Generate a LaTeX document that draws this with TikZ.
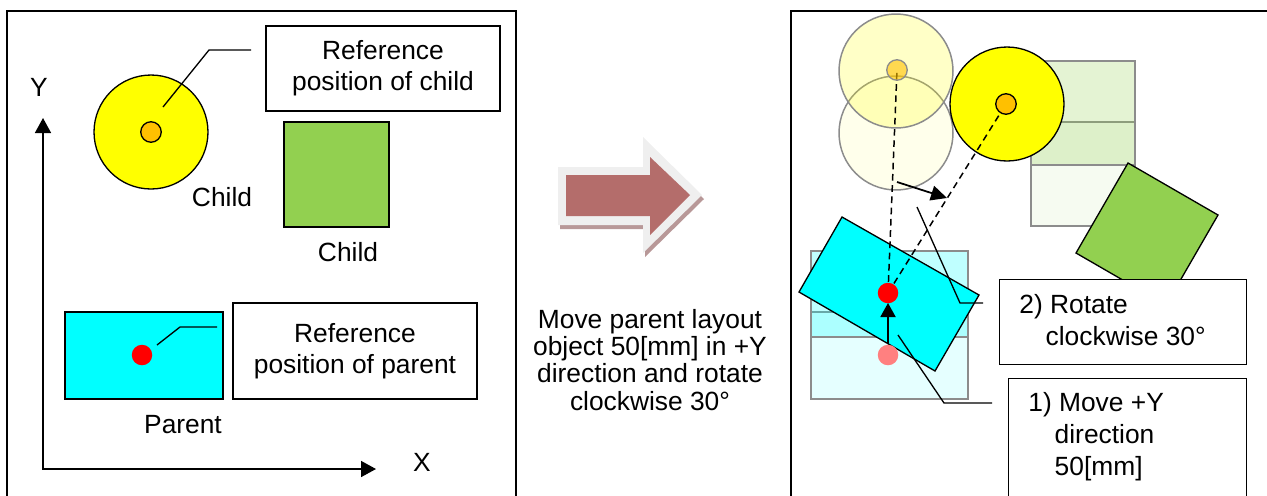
\documentclass[tikz,border=0pt]{standalone}
\usepackage{fontspec}
\setmainfont{Liberation Sans}
\usetikzlibrary{arrows.meta}
\definecolor{cyanf}{HTML}{00FFFF}
\definecolor{yel}{HTML}{FFFF00}
\definecolor{org}{HTML}{FFC000}
\definecolor{grn}{HTML}{92D050}
\definecolor{arrowred}{HTML}{B46D6B}
\definecolor{arrowedge}{HTML}{EFEFEF}
\definecolor{arrowshadow}{HTML}{B89898}
\definecolor{fadeline}{HTML}{8C8C8C}
\definecolor{fadered}{HTML}{FF8080}
\begin{document}
\begin{tikzpicture}[x=0.02cm,y=-0.02cm,
  txt/.style={font=\fontsize{15}{17.5}\selectfont, inner sep=0pt},
  labelbox/.style={draw=black, line width=0.75pt, fill=white, font=\fontsize{15}{17.5}\selectfont, align=center, inner sep=0pt},
  outline/.style={draw=black, line width=0.75pt},
  faded/.style={draw=fadeline, line width=0.85pt},
  leader/.style={draw=black, line width=0.75pt},
  dot/.style={circle, inner sep=0pt, minimum size=0.41cm},
  frame/.style={draw=black, line width=0.85pt},
  axis/.style={draw=black, line width=0.9pt, {Triangle[width=0.32cm,length=0.3cm]}-{Triangle[width=0.32cm,length=0.3cm]}},
  dashedline/.style={draw=black, line width=0.85pt, dash pattern=on 3.8pt off 2.6pt},
]
\useasboundingbox (0,0) rectangle (1267,495);
\clip (0,0) rectangle (1267,495);

% frames
\draw[frame] (7,505) -- (7,11) -- (516,11) -- (516,505);
\draw[frame] (791,505) -- (791,11) -- (1275,11);

% ---------- left panel ----------
\coordinate (O) at (43,469);
\coordinate (Ytip) at (43,118);
\coordinate (Xtip) at (376,469);
\draw[axis] (Ytip) -- (O) -- (Xtip);
\node[txt] (Ylab) at (39,87) {Y};
\node[txt] (Xlab) at (422,462) {X};

\draw[outline, fill=yel] (151,132) circle[radius=1.14cm];
\node[dot, draw=black, line width=0.75pt, fill=org] (cdot) at (151,132) {};
\coordinate (lc1) at (163,107);
\coordinate (lc2) at (209,50);
\coordinate (lc3) at (251,50);
\draw[leader] (lc1) -- (lc2) -- (lc3);
\node[labelbox, minimum width=4.68cm, minimum height=1.7cm] (refchild) at (383,68.5) {Reference\\position of child};
\node[txt] (child1) at (222,197) {Child};

\draw[outline, fill=grn] (284,122) rectangle (389,227);
\node[txt] (child2) at (348,252) {Child};

\draw[outline, fill=cyanf] (65,312) rectangle (223,399);
\node[dot, fill=red] (pdot0) at (142,355) {};
\coordinate (lp1) at (157,345);
\coordinate (lp2) at (180,327);
\coordinate (lp3) at (217,327);
\draw[leader] (lp1) -- (lp2) -- (lp3);
\node[labelbox, minimum width=4.88cm, minimum height=1.92cm] (refpar) at (355,351) {Reference\\position of parent};
\node[txt] (parent) at (183,425) {Parent};

% ---------- middle ----------
\fill[arrowshadow] (560,171) -- (645,171) -- (645,141) -- (704,199) -- (645,257) -- (645,229) -- (560,229) -- cycle;
\fill[arrowedge] (558,167) -- (643,167) -- (643,137) -- (702,195) -- (643,253) -- (643,225) -- (558,225) -- cycle;
\fill[arrowred] (566,175) -- (650,175) -- (650,157) -- (690,195) -- (650,235) -- (650,216) -- (566,216) -- cycle;
\node[txt, align=center, font=\fontsize{15}{15.5}\selectfont, anchor=base] (mtext) at (650,410) {Move parent layout\\object 50[mm] in +Y\\direction and rotate\\clockwise 30°};

% ---------- right panel ----------
% faded green squares
\draw[faded, fill=grn, fill opacity=0.08] (1031,122) rectangle (1135,226);
\draw[faded, fill=grn, fill opacity=0.25] (1031,61) rectangle (1135,165);
% faded cyan rects
\draw[faded, fill=cyanf, fill opacity=0.10] (811,312) rectangle (968,399);
\draw[faded, fill=cyanf, fill opacity=0.25] (811,251) rectangle (968,337);
% faded circles
\draw[faded, fill=yel, fill opacity=0.08] (896,133) circle[radius=1.14cm];
\draw[faded, fill=yel, fill opacity=0.22] (896,71) circle[radius=1.14cm];

% rotated green square
\draw[outline, fill=grn] (1128,163) -- (1218,215) -- (1166,305) -- (1076,253) -- cycle;
% rotated child circle
\draw[outline, fill=yel] (1007,104) circle[radius=1.14cm];
% rotated parent
\draw[outline, fill=cyanf] (842,217) -- (979,295) -- (935,371) -- (799,292) -- cycle;
\node[dot, fill=fadered] (pdotold) at (888,355) {};

% dashed lines
\coordinate (pc) at (888,293);
\coordinate (cuc) at (897,70);
\coordinate (crc) at (1006,104);
\draw[dashedline] (pc) -- (cuc);
\draw[dashedline] (pc) -- (crc);

\node[dot, draw=fadeline, line width=0.75pt, fill=org, fill opacity=0.6] (cdotup) at (cuc) {};
\node[dot, draw=black, line width=0.75pt, fill=org] (cdotrot) at (crc) {};
\node[dot, fill=red] (pdot) at (pc) {};

% rotation arrow
\coordinate (ra1) at (897,182);
\coordinate (ra2) at (947,198);
\draw[black, line width=1pt, -{Triangle[width=0.3cm,length=0.32cm]}] (ra1) -- (ra2);
% move arrow
\coordinate (ma1) at (888,344);
\coordinate (ma2) at (888,303);
\draw[black, line width=1.1pt, -{Triangle[width=0.3cm,length=0.28cm]}] (ma1) -- (ma2);

% leaders
\coordinate (lr1) at (917,207);
\coordinate (lr2) at (960,303);
\coordinate (lr3) at (983,303);
\draw[leader] (lr1) -- (lr2) -- (lr3);
\coordinate (lm1) at (898,335);
\coordinate (lm2) at (944,403);
\coordinate (lm3) at (992,403);
\draw[leader] (lm1) -- (lm2) -- (lm3);

% boxes
\node[labelbox, minimum width=4.94cm, minimum height=1.7cm, anchor=north west] (rotbox) at (999,279) {};
\node[txt, align=left, font=\fontsize{15}{18}\selectfont, anchor=base west] (rottext) at (1019,345) {2) Rotate\\\hspace*{15pt}clockwise 30°};
\node[labelbox, minimum width=4.76cm, minimum height=3cm, anchor=north west] (movebox) at (1008,378) {};
\node[txt, align=left, font=\fontsize{15}{18}\selectfont, anchor=base west] (movetext) at (1028,475) {1) Move +Y\\\hspace*{15pt}direction\\\hspace*{15pt}50[mm]};
\end{tikzpicture}
\end{document}
